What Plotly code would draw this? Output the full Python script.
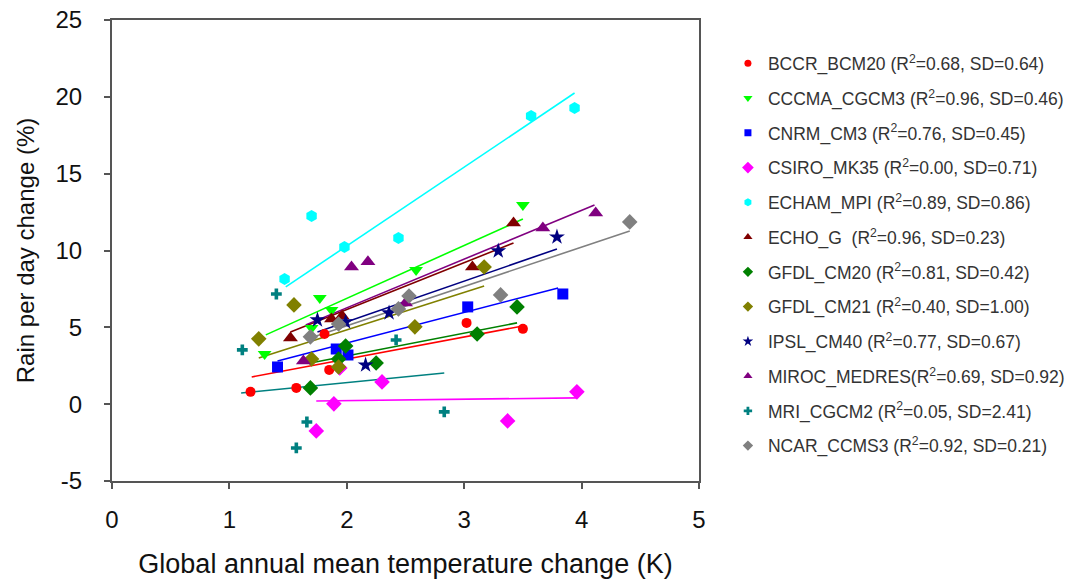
import plotly.graph_objects as go

models = ["BCCR_BCM20", "CCCMA_CGCM3", "CNRM_CM3", "CSIRO_MK35", "ECHAM_MPI", "ECHO_G",
          "GFDL_CM20", "GFDL_CM21", "IPSL_CM40", "MIROC_MEDRES", "MRI_CGCM2", "NCAR_CCMS3"]
legend_labels = [
    "BCCR_BCM20 (R<sup>2</sup>=0.68, SD=0.64)",
    "CCCMA_CGCM3 (R<sup>2</sup>=0.96, SD=0.46)",
    "CNRM_CM3 (R<sup>2</sup>=0.76, SD=0.45)",
    "CSIRO_MK35 (R<sup>2</sup>=0.00, SD=0.71)",
    "ECHAM_MPI (R<sup>2</sup>=0.89, SD=0.86)",
    "ECHO_G  (R<sup>2</sup>=0.96, SD=0.23)",
    "GFDL_CM20 (R<sup>2</sup>=0.81, SD=0.42)",
    "GFDL_CM21 (R<sup>2</sup>=0.40, SD=1.00)",
    "IPSL_CM40 (R<sup>2</sup>=0.77, SD=0.67)",
    "MIROC_MEDRES(R<sup>2</sup>=0.69, SD=0.92)",
    "MRI_CGCM2 (R<sup>2</sup>=0.05, SD=2.41)",
    "NCAR_CCMS3 (R<sup>2</sup>=0.92, SD=0.21)",
]

# temperature change (K) per model
temp_bccr = [1.18, 1.57, 1.85, 1.81, 3.02, 3.50]
temp_cccma = [1.30, 1.77, 1.87, 1.70, 2.59, 3.50]
temp_cnrm = [1.41, 1.91, 2.01, 3.03, 3.84]
temp_csiro = [1.89, 1.74, 2.30, 1.94, 3.37, 3.96]
temp_echam = [1.47, 1.98, 2.44, 1.70, 3.57, 3.94]
temp_echog = [1.52, 1.87, 1.96, 3.07, 3.42]
temp_gfdl20 = [1.69, 1.93, 1.99, 2.25, 3.11, 3.45]
temp_gfdl21 = [1.25, 1.55, 1.70, 1.93, 2.58, 3.17]
temp_ipsl = [1.75, 1.99, 2.16, 2.36, 3.29, 3.79]
temp_miroc = [1.63, 2.04, 2.18, 2.50, 3.67, 4.12]
temp_mri = [1.11, 1.40, 1.66, 1.57, 2.42, 2.83]
temp_ncar = [1.69, 1.93, 2.44, 2.53, 3.31, 4.41]

# rain per day change (%) per model
rain_bccr = [0.80, 1.06, 2.23, 4.57, 5.29, 4.90]
rain_cccma = [3.27, 6.91, 6.13, 4.96, 8.73, 12.96]
rain_cnrm = [2.42, 3.59, 3.20, 6.33, 7.17]
rain_csiro = [0.02, -1.74, 1.45, 2.36, -1.09, 0.80]
rain_echam = [8.15, 10.23, 10.82, 12.25, 18.75, 19.27]
rain_echog = [4.31, 5.55, 5.74, 8.93, 11.79]
rain_gfdl20 = [1.06, 2.94, 3.79, 2.68, 4.57, 6.33]
rain_gfdl21 = [4.25, 6.46, 2.94, 2.42, 5.03, 8.93]
rain_ipsl = [5.48, 5.35, 2.55, 5.94, 9.97, 10.88]
rain_miroc = [2.81, 8.93, 9.26, 6.59, 11.47, 12.44]
rain_mri = [3.53, 7.17, -1.16, -2.85, 4.18, -0.50]
rain_ncar = [4.38, 5.22, 6.20, 7.04, 7.11, 11.86]

# fitted trend line ends
trend_x_start = [1.19, 1.31, 1.41, 1.74, 1.48, 1.52, 1.69, 1.25, 1.75, 1.65, 1.10, 1.69]
trend_y_start = [1.77, 4.51, 2.81, 0.21, 7.63, 4.70, 2.68, 3.01, 4.70, 5.16, 0.73, 4.31]
trend_x_end = [3.50, 3.50, 3.80, 3.96, 3.94, 3.42, 3.45, 3.17, 3.79, 4.11, 2.83, 4.41]
trend_y_end = [5.09, 12.05, 7.56, 0.41, 20.25, 10.49, 5.29, 7.69, 10.10, 12.96, 2.03, 11.27]

x_ticks = [0, 1, 2, 3, 4, 5]
y_ticks = [-5, 0, 5, 10, 15, 20, 25]
y_tick_text = ["-5", "0", "5", "10", "15", "20", "25"]

temps = [temp_bccr, temp_cccma, temp_cnrm, temp_csiro, temp_echam, temp_echog,
         temp_gfdl20, temp_gfdl21, temp_ipsl, temp_miroc, temp_mri, temp_ncar]
rains = [rain_bccr, rain_cccma, rain_cnrm, rain_csiro, rain_echam, rain_echog,
         rain_gfdl20, rain_gfdl21, rain_ipsl, rain_miroc, rain_mri, rain_ncar]

colors = ["#FF0000", "#00FF00", "#0000FF", "#FF00FF", "#00FFFF", "#800000",
          "#008000", "#808000", "#000080", "#800080", "#008080", "#808080"]
symbols = ["circle", "triangle-down", "square", "diamond", "hexagon", "triangle-up",
           "diamond", "diamond", "star", "triangle-up", "cross", "diamond"]
sizes = [10, 12, 11, 12, 12, 13, 12, 12, 12, 13, 9, 12]
leg_sizes = [7, 8, 7, 9, 8, 8, 8, 8, 8, 8, 7, 8]

fig = go.Figure()

for i, m in enumerate(models):
    fig.add_trace(go.Scatter(
        x=[trend_x_start[i], trend_x_end[i]], y=[trend_y_start[i], trend_y_end[i]],
        mode="lines", line=dict(color=colors[i], width=1.6),
        showlegend=False, hoverinfo="skip"))

for i, m in enumerate(models):
    fig.add_trace(go.Scatter(
        x=temps[i], y=rains[i], mode="markers", name=m,
        marker=dict(symbol=symbols[i], color=colors[i], size=sizes[i], line=dict(width=0)),
        showlegend=False))

for i, m in enumerate(models):
    fig.add_trace(go.Scatter(
        x=[None], y=[None], mode="markers", name=legend_labels[i],
        legendgroup=m,
        marker=dict(symbol=symbols[i], color=colors[i], size=leg_sizes[i], line=dict(width=0)),
        showlegend=True))

font_family = "Arial, Liberation Sans, sans-serif"

fig.update_layout(
    width=1065, height=583,
    margin=dict(l=112, r=366, t=20, b=102),
    paper_bgcolor="white", plot_bgcolor="white",
    font=dict(family=font_family, color="#111111"),
    showlegend=True,
    legend=dict(
        xref="container", yref="container", x=0.6835, y=0.922,
        xanchor="left", yanchor="top",
        font=dict(size=17.5, color="#333333", family=font_family),
        tracegroupgap=9, itemsizing="trace", maxheight=570,
        bgcolor="rgba(0,0,0,0)", borderwidth=0,
    ),
    xaxis=dict(
        range=[0, 5], tickvals=x_ticks, ticktext=[str(v) for v in x_ticks],
        showgrid=False, zeroline=False, automargin=False,
        showline=True, linecolor="#555555", linewidth=2, mirror=True,
        ticks="outside", ticklen=6, tickwidth=1.5, tickcolor="#555555",
        ticklabelstandoff=10,
        tickfont=dict(size=24, color="#111111"),
        title=dict(text="Global annual mean temperature change (K)", font=dict(size=27, color="#111111"),
                   standoff=22),
    ),
    yaxis=dict(
        range=[-5, 25], tickvals=y_ticks, ticktext=y_tick_text,
        showgrid=False, zeroline=False, automargin=False,
        showline=True, linecolor="#555555", linewidth=2, mirror=True,
        ticks="outside", ticklen=6, tickwidth=1.5, tickcolor="#555555",
        ticklabelstandoff=17,
        tickfont=dict(size=24, color="#111111"),
        title=dict(text="Rain per day change (%)", font=dict(size=24, color="#111111"),
                   standoff=14),
    ),
)

fig.write_html("out.html", config={"displayModeBar": False},
               post_script="document.body.style.margin='0';")
